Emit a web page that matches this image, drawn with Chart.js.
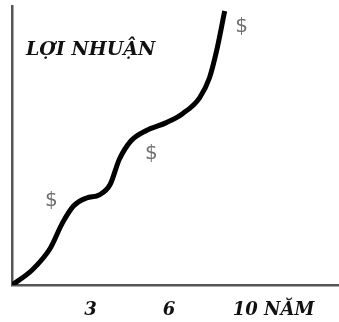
<!DOCTYPE html>
<html>
<head>
<meta charset="utf-8">
<script src="https://cdn.jsdelivr.net/npm/chart.js@4/dist/chart.umd.min.js"></script>
<style>
  html, body { margin: 0; padding: 0; background: #fff; }
</style>
</head>
<body>
<canvas id="grafLoiNhuan" width="339" height="322"></canvas>
<script>
// nam (x) va loi nhuan (y) doc tu hinh
let namX = [0, 0.77, 1.45, 1.92, 2.35, 2.85, 3.34, 3.75, 4.10, 4.56, 5.14, 5.90, 6.52, 7.17, 7.55, 7.82, 8.13];
let loiNhuanY = [0, 5.4, 13.0, 22.1, 28.3, 31.2, 32.3, 36.0, 45.0, 51.8, 55.4, 58.2, 61.4, 67.1, 74.3, 83.9, 98.2];
let nhanTrucX = [3, 6, 10];
let tenTrucX = ['3', '6', '10 NĂM'];
let tenTrucY = 'LỢI NHUẬN';
// vi tri ky hieu $ (don vi du lieu)
let dauDolaX = [1.50, 5.33, 8.78];
let dauDolaY = [30.1, 47.0, 92.5];

let fontDam = 'italic bold 19px "DejaVu Serif"';

let pluginChu = {
    id: 'pluginChu',
    afterDatasetsDraw(chart) {
        let ctx = chart.ctx;
        let sx = chart.scales.x;
        let sy = chart.scales.y;
        ctx.save();
        ctx.fillStyle = '#111';
        ctx.font = fontDam;
        ctx.textAlign = 'left';
        ctx.textBaseline = 'alphabetic';
        ctx.fillText(tenTrucY, chart.chartArea.left + 14, chart.chartArea.top + 49);

        ctx.fillStyle = '#6e6e6e';
        ctx.font = '20px "DejaVu Sans"';
        ctx.textAlign = 'center';
        ctx.textBaseline = 'middle';
        for (let i = 0; i < dauDolaX.length; i++) {
            ctx.fillText('$', sx.getPixelForValue(dauDolaX[i]), sy.getPixelForValue(dauDolaY[i]));
        }
        ctx.restore();
    }
};

let canvasGraf = document.getElementById('grafLoiNhuan').getContext('2d');
let chart = new Chart(canvasGraf, {
    type: 'line',
    data: {
        datasets: [{
            label: tenTrucY,
            data: namX.map((x, i) => ({ x: x, y: loiNhuanY[i] })),
            borderColor: '#000',
            borderWidth: 5,
            pointRadius: 0,
            fill: false,
            cubicInterpolationMode: 'monotone',
            borderCapStyle: 'butt'
        }]
    },
    options: {
        responsive: false,
        animation: false,
        layout: { padding: { left: 12, top: 6, right: 0, bottom: 0 } },
        plugins: {
            legend: { display: false },
            tooltip: { enabled: false }
        },
        scales: {
            x: {
                type: 'linear',
                min: 0,
                max: 12.5,
                grid: { display: false, drawTicks: false, tickLength: 0 },
                border: { display: true, color: '#555', width: 2.5 },
                afterBuildTicks(scale) {
                    scale.ticks = nhanTrucX.map(v => ({ value: v }));
                },
                afterFit(scale) {
                    scale.height = 37;
                },
                ticks: {
                    padding: 15,
                    color: '#111',
                    font: { family: 'DejaVu Serif', size: 18, style: 'italic', weight: 'bold' },
                    maxRotation: 0,
                    autoSkip: false,
                    callback: function (value) {
                        let i = nhanTrucX.indexOf(value);
                        return i >= 0 ? tenTrucX[i] : '';
                    }
                }
            },
            y: {
                type: 'linear',
                min: 0,
                max: 100,
                grid: { display: false, drawTicks: false, tickLength: 0 },
                border: { display: true, color: '#555', width: 2.5 },
                ticks: { display: false }
            }
        }
    },
    plugins: [pluginChu]
});
</script>
</body>
</html>
